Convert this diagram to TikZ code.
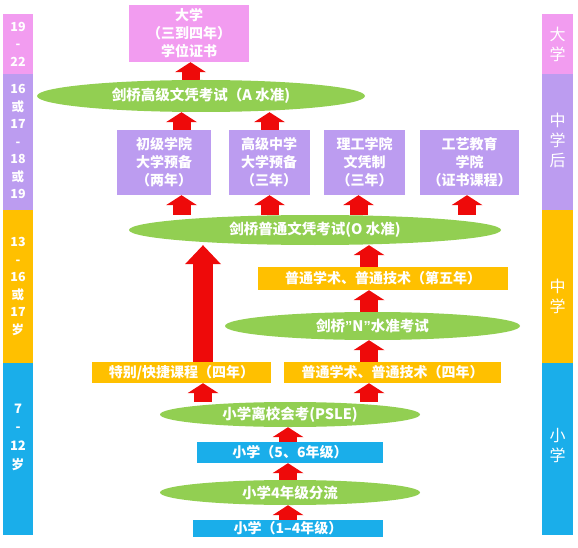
\documentclass[tikz,border=0pt]{standalone}
\usepackage{fontspec}
\setmainfont{Noto Sans CJK SC}
\newfontfamily\latq{Liberation Sans}
\usetikzlibrary{shapes.geometric,arrows.meta}
\definecolor{cpink}{HTML}{F29CF0}
\definecolor{cpurple}{HTML}{BC9CF0}
\definecolor{corange}{HTML}{FFC000}
\definecolor{cblue}{HTML}{1AAEEA}
\definecolor{cgreen}{HTML}{92CF52}
\definecolor{cred}{HTML}{EE0A0A}
\pgfdeclarelayer{bg}
\pgfsetlayers{bg,main}
\newcommand\bx[7]{\node[#1,minimum width=#4pt,minimum height=#5pt] (#6) at (#2,#3) {#7};}
\begin{document}
\begin{tikzpicture}[x=1pt,y=-1pt,
  boxbase/.style={rectangle,inner sep=0pt,text=white,align=center,font=\fontsize{14}{18}\selectfont\bfseries},
  pinkbox/.style={boxbase,fill=cpink},
  purplebox/.style={boxbase,fill=cpurple},
  orangebox/.style={boxbase,fill=corange},
  bluebox/.style={boxbase,fill=cblue},
  exam/.style={ellipse,inner sep=0pt,fill=cgreen,text=white,font=\fontsize{14.5}{17}\selectfont\bfseries},
  uparr/.style={draw=cred,line width=18pt,-{Triangle[width=31pt,length=10pt,line width=0pt]}},
  bigarr/.style={draw=cred,line width=20pt,-{Triangle[width=36pt,length=19pt,line width=0pt]}},
  lefttxt/.style={text=white,align=center,inner sep=0pt,font=\fontsize{12.5}{17.5}\selectfont\bfseries},
  righttxt/.style={text=white,align=center,inner sep=0pt,font=\fontsize{16}{20}\selectfont}]
\useasboundingbox (0,0) rectangle (578,548);
% side bars
\fill[cpink] (3,14) rectangle (33,74);
\fill[cpurple] (3,74) rectangle (33,210);
\fill[corange] (3,210) rectangle (33,363);
\fill[cblue] (3,363) rectangle (33,535);
\fill[cpink] (542,14) rectangle (573,74);
\fill[cpurple] (542,74) rectangle (573,210);
\fill[corange] (542,210) rectangle (573,363);
\fill[cblue] (542,363) rectangle (573,535);
\node[lefttxt] (la) at (18,44) {19\\-\\22};
\node[lefttxt] (lb) at (18,141.5) {16\\或\\17\\-\\18\\或\\19};
\node[lefttxt] (lc) at (18,286.5) {13\\-\\16\\或\\17\\岁};
\node[lefttxt,font=\fontsize{13}{18.7}\selectfont\bfseries] (ld) at (18,437) {7\\-\\12\\岁};
\node[righttxt] (ra) at (557.5,44) {大\\学};
\node[righttxt] (rb) at (557.5,140) {中\\学\\后};
\node[righttxt] (rc) at (557.5,296) {中\\学};
\node[righttxt] (rd) at (557.5,446) {小\\学};
% main nodes
\bx{pinkbox}{189}{33.5}{120}{57}{uni}{大学\\（三到四年）\\学位证书}
\bx{exam}{201}{96}{328}{32}{elA}{剑桥高级文凭考试（A 水准)}
\bx{purplebox}{164}{162.5}{94}{65}{p1}{初级学院\\大学预备\\（两年）}
\bx{purplebox}{269}{162.5}{81}{65}{p2}{高级中学\\大学预备\\（三年）}
\bx{purplebox}{364.5}{162.5}{81}{65}{p3}{理工学院\\文凭制\\（三年）}
\bx{purplebox}{469.5}{162.5}{99}{65}{p4}{工艺教育\\学院\\（证书课程）}
\bx{exam}{315}{230}{372}{30}{elO}{剑桥普通文凭考试(O 水准)}
\bx{orangebox}{383}{278.5}{250}{23}{o5}{普通学术、普通技术（第五年）}
\bx{exam}{372.5}{326}{295}{28}{elN}{剑桥{\latq ”}N{\latq ”}水准考试}
\bx{orangebox}{181.5}{372.5}{179}{21}{o4a}{特别/快捷课程（四年）}
\bx{orangebox}{392.5}{372.5}{217}{21}{o4b}{普通学术、普通技术（四年）}
\bx{exam}{290}{414.5}{260}{25}{elP}{小学离校会考(PSLE)}
\bx{bluebox}{290}{452.5}{186}{21}{b56}{小学（5、6年级）}
\bx{exam}{290}{492.5}{260}{25}{el4}{小学4年级分流}
\bx{bluebox}{288}{528.5}{190}{17}{b14}{小学（1–4年级）}
% arrow columns
\coordinate (cu) at (190.5,0);
\coordinate (c1) at (181.5,0);
\coordinate (c2) at (269.5,0);
\coordinate (c3) at (358.5,0);
\coordinate (c4) at (467,0);
\coordinate (cm) at (369,0);
\coordinate (cb) at (203,0);
\coordinate (cp) at (288,0);
\begin{pgfonlayer}{bg}
\draw[uparr] (cu |- elA.north) -- (cu |- uni.south);
\draw[uparr] (c1 |- p1.north) -- (c1 |- elA.south);
\draw[uparr] (c2 |- p2.north) -- (c2 |- elA.south);
\draw[uparr] (c1 |- elO.north) -- (c1 |- p1.south);
\draw[uparr] (c2 |- elO.north) -- (c2 |- p2.south);
\draw[uparr] (c3 |- elO.north) -- (c3 |- p3.south);
\draw[uparr] (c4 |- elO.north) -- (c4 |- p4.south);
\draw[uparr] (cm |- o5.north) -- (cm |- elO.south);
\draw[uparr] (cm |- elN.north) -- (cm |- o5.south);
\draw[uparr] (cm |- o4b.north) -- (cm |- elN.south);
\draw[bigarr] (cb |- o4a.north) -- (cb |- elO.south);
\draw[uparr] (cb |- elP.north) -- (cb |- o4a.south);
\draw[uparr] (cm |- elP.north) -- (cm |- o4b.south);
\draw[uparr] (cp |- b56.north) -- (cp |- elP.south);
\draw[uparr] (cp |- el4.north) -- (cp |- b56.south);
\draw[uparr] (cp |- b14.north) -- (cp |- el4.south);
\end{pgfonlayer}
\end{tikzpicture}
\end{document}
